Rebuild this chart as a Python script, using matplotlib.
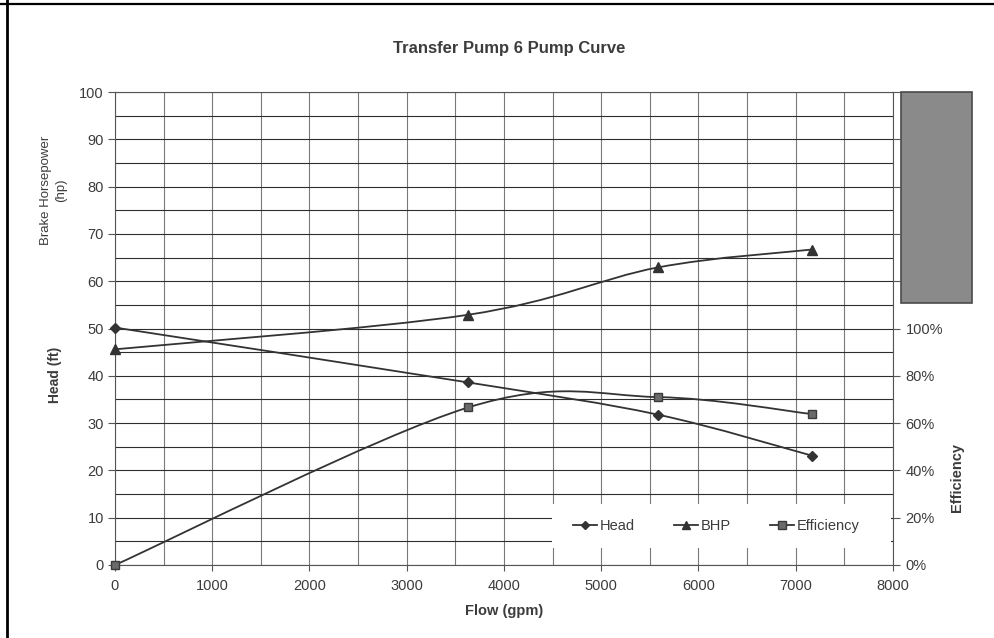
import matplotlib.pyplot as plt
from matplotlib.path import Path
from matplotlib.patches import PathPatch, Rectangle
from matplotlib.lines import Line2D
from matplotlib.ticker import MultipleLocator, FuncFormatter

plt.rcParams['font.family'] = ['Liberation Sans', 'DejaVu Sans']

# pump test points
flow = [0, 3630, 5580, 7170]
head = [50.2, 38.6, 31.8, 23.1]
bhp = [45.6, 52.9, 62.9, 66.7]
efficiency = [0, 66.6, 71.0, 63.8]

flow_ticks = [0, 1000, 2000, 3000, 4000, 5000, 6000, 7000, 8000]
left_ticks = [0, 10, 20, 30, 40, 50, 60, 70, 80, 90, 100]
eff_ticks = [0, 20, 40, 60, 80, 100, 120, 140, 160, 180, 200]

INK = '#333333'
TXT = '#3c3c3c'
W, H = 995, 638


def smooth_path(xs, ys):
    # Bezier curve through the points, same tension as a spreadsheet "smoothed line"
    pts = list(zip(xs, ys))
    n = len(pts)
    verts = [pts[0]]
    codes = [Path.MOVETO]
    for i in range(n - 1):
        p0 = pts[max(i - 1, 0)]
        p1 = pts[i]
        p2 = pts[i + 1]
        p3 = pts[min(i + 2, n - 1)]
        c1 = (p1[0] + (p2[0] - p0[0]) / 6, p1[1] + (p2[1] - p0[1]) / 6)
        c2 = (p2[0] - (p3[0] - p1[0]) / 6, p2[1] - (p3[1] - p1[1]) / 6)
        verts += [c1, c2, p2]
        codes += [Path.CURVE4] * 3
    return Path(verts, codes)


def fx(px):
    return px / W


def fy(py):
    return 1 - py / H


fig = plt.figure(figsize=(W / 100, H / 100), dpi=100)
ax = fig.add_axes([fx(115), fy(565), 778 / W, 473 / H])

ax.set_xlim(0, 8000)
ax.set_ylim(0, 100)
ax.set_xticks(flow_ticks)
ax.set_yticks(left_ticks)
ax.xaxis.set_minor_locator(MultipleLocator(500))
ax.yaxis.set_minor_locator(MultipleLocator(5))
ax.grid(which='both', axis='y', color='#2e2e2e', lw=0.8)
ax.grid(which='both', axis='x', color='#7a7a7a', lw=0.8)
ax.set_axisbelow(True)
ax.tick_params(which='minor', length=0)
ax.tick_params(axis='y', which='major', length=5, width=0.8, color='#555555',
               labelsize=10.5, labelcolor=TXT, pad=3)
ax.tick_params(axis='x', which='major', length=4, width=0.8, color='#555555',
               labelsize=10.5, labelcolor=TXT, pad=6)
for s in ax.spines.values():
    s.set_color('#555555')
    s.set_linewidth(0.8)

ax2 = ax.twinx()
ax2.set_ylim(0, 200)
ax2.set_yticks(eff_ticks)
ax2.yaxis.set_major_formatter(FuncFormatter(lambda v, p: f"{v:.0f}%" if v <= 100 else ""))
ax2.tick_params(axis='y', length=5, width=0.8, color='#555555',
                labelsize=10.5, labelcolor=TXT, pad=4)
for s in ax2.spines.values():
    s.set_visible(False)

# blank band behind the legend
ax.add_patch(Rectangle((0.5617, 0.036), 0.436, 0.093, transform=ax.transAxes,
                       facecolor='white', edgecolor='none', zorder=1.5))

# smoothed curves
ax.add_patch(PathPatch(smooth_path(flow, head), fill=False, edgecolor=INK, lw=1.3, zorder=3))
ax.add_patch(PathPatch(smooth_path(flow, bhp), fill=False, edgecolor=INK, lw=1.3, zorder=3))
ax2.add_patch(PathPatch(smooth_path(flow, efficiency), fill=False, edgecolor=INK, lw=1.3, zorder=3))

ax.plot(flow, head, ls='none', marker='D', ms=5, color=INK, zorder=4, clip_on=False)
ax.plot(flow, bhp, ls='none', marker='^', ms=6.5, color=INK, zorder=4, clip_on=False)
ax2.plot(flow, efficiency, ls='none', marker='s', ms=6, mfc='#6a6a6a', mec='#3a3a3a',
         zorder=4, clip_on=False)

handles = [
    Line2D([], [], color=INK, lw=1.3, marker='D', ms=4.5),
    Line2D([], [], color=INK, lw=1.3, marker='^', ms=6),
    Line2D([], [], color=INK, lw=1.3, marker='s', ms=5.5, mfc='#6a6a6a', mec='#3a3a3a'),
]
leg = ax2.legend(handles, ['Head', 'BHP', 'Efficiency'], ncol=3,
                 loc='center left', bbox_to_anchor=(0.5887, 0.082),
                 frameon=False, fontsize=10.5, handlelength=1.65, handletextpad=0.2,
                 columnspacing=2.65, borderaxespad=0, borderpad=0)
for t in leg.get_texts():
    t.set_color(TXT)

# text
fig.text(fx(509), fy(49), 'Transfer Pump 6 Pump Curve', ha='center', va='center',
         fontsize=12, weight='bold', color=TXT)
fig.text(fx(504), fy(611), 'Flow (gpm)', ha='center', va='center',
         fontsize=10.5, weight='bold', color=TXT)
fig.text(fx(55), fy(375), 'Head (ft)', ha='center', va='center', rotation=90,
         fontsize=10, weight='bold', color=TXT)
fig.text(fx(54), fy(190), 'Brake Horsepower\n(hp)', ha='center', va='center', rotation=90,
         fontsize=9.5, color=TXT, multialignment='center', linespacing=1.35)
fig.text(fx(957), fy(478), 'Efficiency', ha='center', va='center', rotation=90,
         fontsize=10.5, weight='bold', color=TXT)

# shaded block beside the upper right axis
fig.add_artist(Rectangle((fx(901), fy(303)), 71 / W, 211 / H, transform=fig.transFigure,
                         facecolor='#8a8a8a', edgecolor='#4a4a4a', lw=1.2))

# page edges
fig.add_artist(Line2D([fx(7), fx(7)], [0, 1], transform=fig.transFigure, color='black', lw=2))
fig.add_artist(Line2D([0, 1], [fy(3.5), fy(3.5)], transform=fig.transFigure, color='black', lw=1.6))

fig.savefig('out.png', dpi=100)
